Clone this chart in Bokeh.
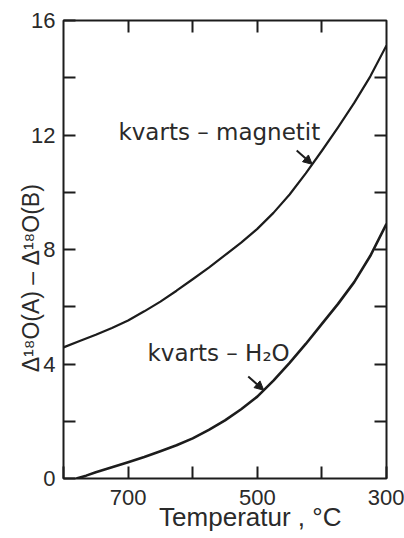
from bokeh.plotting import figure
from bokeh.models import Range1d, LinearAxis, FixedTicker, Label, Arrow, NormalHead
from bokeh.embed import file_html
from bokeh.resources import INLINE
import numpy as np

# ---- data ----
temp_qm = [800, 775, 750, 725, 700, 675, 650, 625, 600, 575, 550,
           525, 500, 475, 450, 425, 400, 375, 350, 325, 300]
delta_qm = [4.58, 4.80, 5.02, 5.26, 5.52, 5.84, 6.18, 6.56, 6.96, 7.37, 7.80,
            8.24, 8.72, 9.28, 9.92, 10.66, 11.45, 12.27, 13.12, 14.05, 15.13]

temp_qw = [780, 765, 750, 725, 700, 675, 650, 625, 600, 575, 550,
           525, 500, 475, 450, 425, 400, 375, 350, 325, 300]
delta_qw = [0.0, 0.1, 0.22, 0.39, 0.57, 0.75, 0.95, 1.16, 1.40, 1.70, 2.03,
            2.42, 2.86, 3.42, 4.04, 4.70, 5.40, 6.10, 6.86, 7.78, 8.90]

x_major = [700, 500, 300]
x_minor = [800, 600, 400]
y_major = [0, 4, 8, 12, 16]
y_minor = [2, 6, 10, 14]

NB = "\u00a0"
label_qm = "kvarts \u2013 magnetit"
label_qw = "kvarts \u2013 H\u2082O"
x_title = NB * 8 + "Temperatur ,  \u00b0C"
y_title = "\u0394\u00b9\u2078O(A) \u2013 \u0394\u00b9\u2078O(B)" + NB * 9

INK = "#1c1c1c"
TXT = "#2a2a2a"

p = figure(width=404, height=538, x_range=Range1d(800, 300), y_range=Range1d(0, 16),
           output_backend="svg", toolbar_location=None,
           min_border_left=63, min_border_right=18, min_border_top=20, min_border_bottom=60)
p.background_fill_color = "white"
p.border_fill_color = "white"
p.grid.visible = False
p.outline_line_color = INK
p.outline_line_width = 2

def style_axis(ax, major, minor):
    ax.ticker = FixedTicker(ticks=major, minor_ticks=minor)
    ax.axis_line_color = None
    ax.major_tick_in = 12
    ax.major_tick_out = 0
    ax.minor_tick_in = 12
    ax.minor_tick_out = 0
    ax.major_tick_line_width = 2
    ax.minor_tick_line_width = 2
    ax.major_tick_line_color = INK
    ax.minor_tick_line_color = INK
    ax.major_label_text_font = "Liberation Sans"
    ax.major_label_text_font_size = "22px"
    ax.major_label_text_color = TXT
    ax.axis_label_text_font = "Liberation Sans"
    ax.axis_label_text_font_style = "normal"
    ax.axis_label_text_color = TXT

xa = p.xaxis[0]
style_axis(xa, x_major, x_minor)
xa.major_label_standoff = 11
xa.axis_label = x_title
xa.axis_label_text_font_size = "26px"
xa.axis_label_standoff = -6
xa.axis_label_text_baseline = "top"

ya = p.yaxis[0]
style_axis(ya, y_major, y_minor)
ya.major_label_standoff = 8
ya.axis_label = y_title
ya.axis_label_text_font_size = "23px"
ya.axis_label_standoff = -16

top = LinearAxis()
style_axis(top, [], x_major[:-1] + x_minor[1:])
p.add_layout(top, "above")
right = LinearAxis()
style_axis(right, [], y_major[1:-1] + y_minor)
p.add_layout(right, "right")

p.line(temp_qm, delta_qm, line_width=2.2, line_color=INK, line_join="round")
p.line(temp_qw, delta_qw, line_width=2.6, line_color=INK, line_join="round")

p.add_layout(Label(x=715, y=12.1, text=label_qm, text_font="DejaVu Sans",
                   text_font_size="23px", text_color=TXT, text_baseline="alphabetic"))
p.add_layout(Label(x=670, y=4.4, text=label_qw, text_font="DejaVu Sans",
                   text_font_size="23px", text_color=TXT, text_baseline="alphabetic"))

# arrows pointing at the curves
for temps, vals, t_tip in ((temp_qm, delta_qm, 415), (temp_qw, delta_qw, 490)):
    v_tip = float(np.interp(t_tip, temps[::-1], vals[::-1]))
    p.add_layout(Arrow(end=NormalHead(size=9, fill_color=INK, line_color=INK),
                       x_start=t_tip + 24, y_start=v_tip + 0.48, x_end=t_tip, y_end=v_tip,
                       line_width=2, line_color=INK))

open("out.html", "w").write(file_html(p, INLINE))
